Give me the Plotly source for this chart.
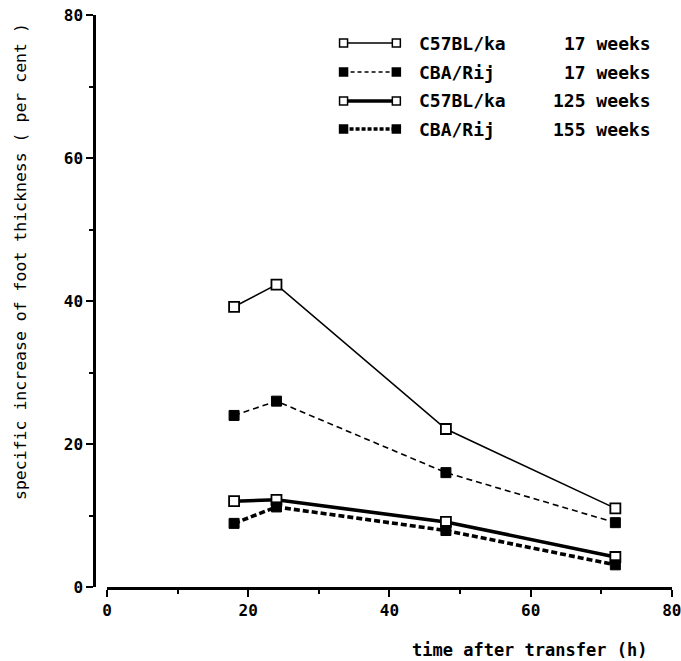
import plotly.graph_objects as go

hours = [18, 24, 48, 72]
c57_17 = [39.2, 42.3, 22.1, 11.0]
cba_17 = [24.0, 26.0, 16.0, 9.0]
c57_125 = [12.0, 12.2, 9.1, 4.2]
cba_155 = [8.9, 11.2, 7.9, 3.1]

series_names = ["C57BL/ka", "CBA/Rij", "C57BL/ka", "CBA/Rij"]
series_ages = ["17 weeks", "17 weeks", "125 weeks", "155 weeks"]
series_values = [c57_17, cba_17, c57_125, cba_155]

x_ticks = [0, 20, 40, 60, 80]
y_ticks = [0, 20, 40, 60, 80]

FONT = "DejaVu Sans Mono"
styles = [
    dict(width=1.6, dash="solid", open=True),
    dict(width=1.6, dash="6px,4px", open=False),
    dict(width=3.6, dash="solid", open=True),
    dict(width=3.6, dash="6px,3px", open=False),
]

W, H = 681, 661
ML, MR, MT, MB = 94, 9, 15, 74
plot_w = W - ML - MR
plot_h = H - MT - MB

fig = go.Figure()

def marker(st, size=10):
    if st["open"]:
        return dict(symbol="square", size=size, color="white", line=dict(color="black", width=1.8))
    return dict(symbol="square", size=size, color="black", line=dict(color="black", width=1))

for vals, st in zip(series_values, styles):
    fig.add_trace(go.Scatter(
        x=hours, y=vals, mode="lines+markers",
        line=dict(color="black", width=st["width"], dash=st["dash"]),
        marker=marker(st), showlegend=False, hoverinfo="skip", cliponaxis=False,
    ))

# legend samples on an overlay pixel axis
legend_rows_y = [43, 72, 101, 129]
legend_dash = ["solid", "4px,3px", "solid", "4px,2px"]
for ry, st, ld, nm, ag in zip(legend_rows_y, styles, legend_dash, series_names, series_ages):
    fig.add_trace(go.Scatter(
        x=[336, 390], y=[ry, ry], mode="lines+markers",
        line=dict(color="black", width=st["width"] * (0.9 if st["width"] < 2 else 1.0), dash=ld),
        marker=dict(symbol="square", size=8,
                    color="white" if st["open"] else "black",
                    line=dict(color="black", width=1.5)),
        xaxis="x2", yaxis="y2", showlegend=False, hoverinfo="skip",
    ))
    fig.add_annotation(x=(417 - ML) / plot_w, y=1 - (ry - MT) / plot_h, xref="paper", yref="paper",
                       text=nm, showarrow=False, xanchor="left", yanchor="middle",
                       font=dict(family=FONT, size=18, color="black", weight="bold"))
    fig.add_annotation(x=(653 - ML) / plot_w, y=1 - (ry - MT) / plot_h, xref="paper", yref="paper",
                       text=ag, showarrow=False, xanchor="right", yanchor="middle",
                       font=dict(family=FONT, size=18, color="black", weight="bold"))

x0_frac = (107 - ML) / plot_w
tickfont = dict(family=FONT, size=16, color="black", weight="bold")

fig.update_layout(
    width=W, height=H,
    margin=dict(l=ML, r=MR, t=MT, b=MB, autoexpand=False),
    plot_bgcolor="white", paper_bgcolor="white",
    font=dict(family=FONT, size=17, color="black"),
    xaxis=dict(
        domain=[x0_frac, 1], range=[0, 80.02], tickvals=x_ticks,
        showline=True, linecolor="black", linewidth=2.5,
        ticks="outside", ticklen=7, tickwidth=2, tickcolor="black",
        minor=dict(dtick=10, tick0=0, ticks="outside", ticklen=4, tickwidth=2, tickcolor="black", showgrid=False),
        showgrid=False, zeroline=False, tickfont=tickfont,
        ticklabeloverflow="allow", automargin=False, anchor="y", fixedrange=True,
    ),
    yaxis=dict(
        range=[0, 80.02], tickvals=y_ticks, anchor="free", position=0,
        showline=True, linecolor="black", linewidth=2.5,
        ticks="outside", ticklen=7, tickwidth=2, tickcolor="black",
        minor=dict(dtick=10, tick0=0, ticks="outside", ticklen=4, tickwidth=2, tickcolor="black", showgrid=False),
        showgrid=False, zeroline=False, tickfont=tickfont,
        ticklabeloverflow="allow", automargin=False, fixedrange=True,
    ),
    xaxis2=dict(domain=[0, 1], range=[ML, W - MR], visible=False, overlaying="x", anchor="y2", fixedrange=True),
    yaxis2=dict(range=[H - MB, MT], visible=False, overlaying="y", anchor="x2", fixedrange=True),
)

fig.add_annotation(x=(649 - ML) / plot_w, y=-(650 - (H - MB)) / plot_h, xref="paper", yref="paper",
                   text="time after transfer (h)", showarrow=False, xanchor="right", yanchor="middle",
                   font=dict(family=FONT, size=17, color="black", weight="bold"))
fig.add_annotation(x=-(ML - 20) / plot_w, y=1 - (262 - MT) / plot_h, xref="paper", yref="paper",
                   text="specific increase of foot thickness ( per cent )", showarrow=False, textangle=-90,
                   xanchor="center", yanchor="middle",
                   font=dict(family=FONT, size=16.5, color="black"))

fig.write_html("out.html")
